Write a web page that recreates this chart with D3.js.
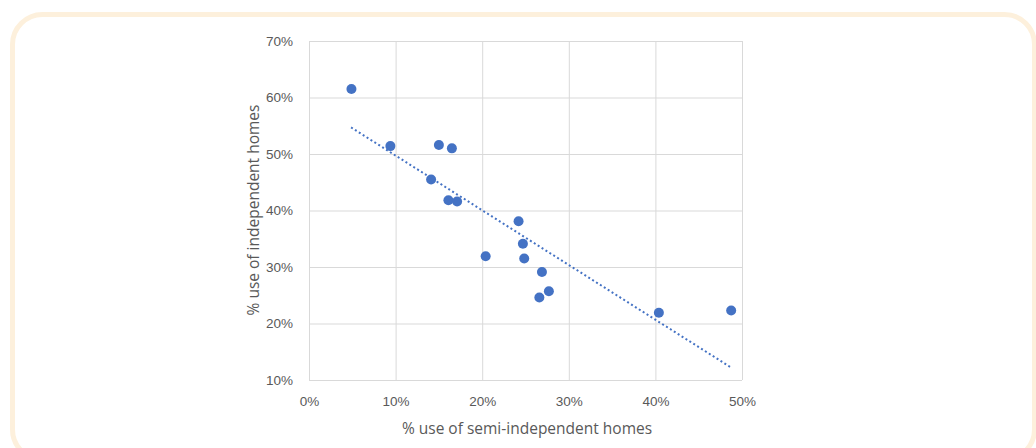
<!DOCTYPE html>
<html>
<head>
<meta charset="utf-8">
<script src="https://cdn.jsdelivr.net/npm/d3@7"></script>
<style>
  body { margin: 0; background: #fff; }
  svg { display: block; font-family: "Open Sans", "Noto Sans", sans-serif; }
</style>
</head>
<body>
<svg id="chart"></svg>
<script>
// semi-independent use (%) vs independent use (%)
const semiIndependent = [4.9, 9.4, 15.0, 16.5, 14.1, 16.1, 17.1, 24.2, 24.7, 24.85, 20.4, 26.9, 27.7, 26.6, 40.4, 48.75];
const independent     = [61.5, 51.4, 51.6, 51.0, 45.5, 41.8, 41.6, 38.1, 34.1, 31.5, 31.9, 29.1, 25.7, 24.6, 21.9, 22.3];
// linear trendline end points
const trendX = [4.86, 48.75];
const trendY = [54.7, 12.2];
const xTicks = [0, 10, 20, 30, 40, 50];
const yTicks = [10, 20, 30, 40, 50, 60, 70];

const width = 1036, height = 448;
const margin = {top: 41, right: 294, bottom: 68, left: 309};
const svg = d3.select("#chart").attr("width", width).attr("height", height);

// rounded frame
svg.append("rect")
    .attr("x", 12.5).attr("y", 14.5)
    .attr("width", 1022).attr("height", 445)
    .attr("rx", 30)
    .attr("fill", "#fff")
    .attr("stroke", "#fdf0dc")
    .attr("stroke-width", 5);

const x = d3.scaleLinear().domain([0, 50]).range([margin.left, width - margin.right]);
const y = d3.scaleLinear().domain([10, 70]).range([height - margin.bottom, margin.top]);
const fmt = d => d + "%";

// grid + axes
const gx = svg.append("g")
    .attr("transform", `translate(0,${height - margin.bottom})`)
    .call(d3.axisBottom(x).tickValues(xTicks).tickFormat(fmt).tickSize(0).tickPadding(16));
gx.select(".domain").remove();
gx.selectAll(".tick line").clone()
    .attr("y2", -(height - margin.bottom - margin.top))
    .attr("stroke", "#d9d9d9").attr("stroke-width", 1);

const gy = svg.append("g")
    .attr("transform", `translate(${margin.left},0)`)
    .call(d3.axisLeft(y).tickValues(yTicks).tickFormat(fmt).tickSize(0).tickPadding(16));
gy.select(".domain").remove();
gy.selectAll(".tick line").clone()
    .attr("x2", width - margin.left - margin.right)
    .attr("stroke", "#d9d9d9").attr("stroke-width", 1);

svg.selectAll(".tick text").attr("fill", "#595959").style("font-size", "13.5px");

// trendline
const pts = trendX.map((d, i) => [d, trendY[i]]);
svg.append("path")
    .datum(pts)
    .attr("fill", "none")
    .attr("stroke", "#4472c4")
    .attr("stroke-width", 2)
    .attr("stroke-dasharray", "2,2.6")
    .attr("d", d3.line().x(d => x(d[0])).y(d => y(d[1])));

// points
svg.append("g")
    .selectAll("circle")
    .data(semiIndependent.map((d, i) => [d, independent[i]]))
    .join("circle")
    .attr("cx", d => x(d[0]))
    .attr("cy", d => y(d[1]))
    .attr("r", 5)
    .attr("fill", "#4472c4");

// axis titles
svg.append("text")
    .attr("x", 527)
    .attr("y", 434)
    .attr("text-anchor", "middle")
    .attr("fill", "#595959")
    .style("font-size", "15.5px")
    .text("% use of semi-independent homes");

svg.append("text")
    .attr("transform", `translate(259,210) rotate(-90)`)
    .attr("text-anchor", "middle")
    .attr("fill", "#595959")
    .style("font-size", "15.5px")
    .text("% use of independent homes");
</script>
</body>
</html>
